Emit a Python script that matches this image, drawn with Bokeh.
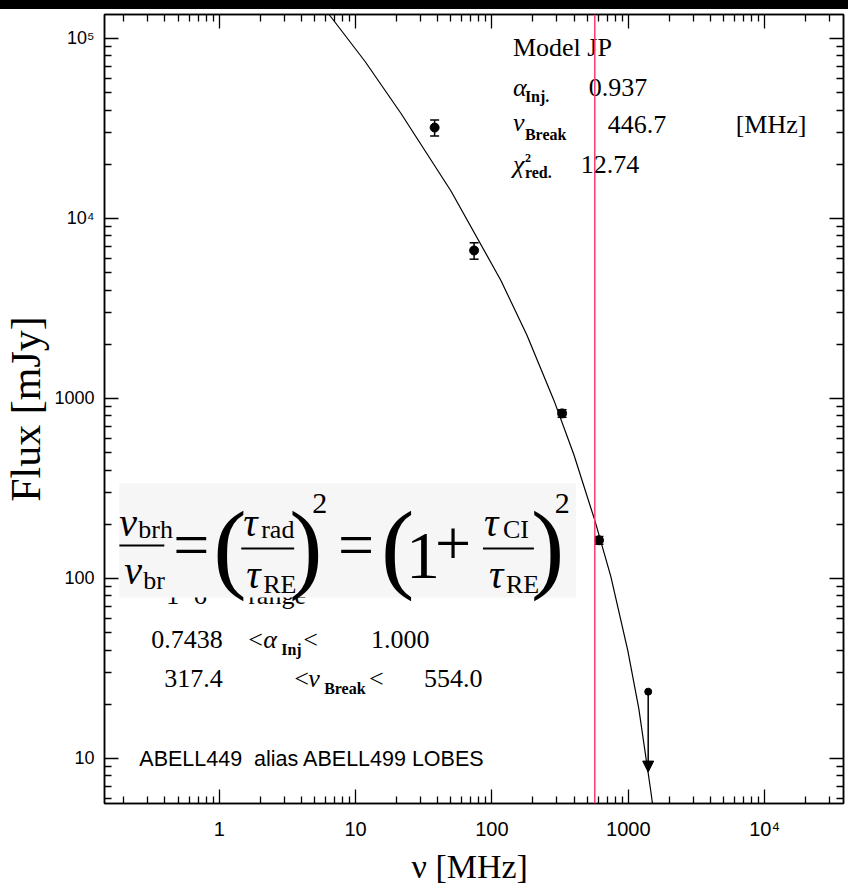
from bokeh.plotting import figure
from bokeh.models import (ColumnDataSource, FixedTicker, LogAxis, Span, Whisker,
                          TeeHead, Arrow, NormalHead, Div, Range1d, CustomJSTickFormatter)
from bokeh.layouts import column
from bokeh.core.properties import value, field
from bokeh.embed import file_html
from bokeh.resources import INLINE

# Measured flux densities of the lobes
freq_mhz = [38, 74, 327, 610]
flux_mjy = [32000, 6640, 826, 163]
flux_err = [3300, 700, 40, 8]

# 1.4 GHz upper limit
limit_freq = [1400]
limit_flux = [23.5]
limit_arrow_to = [8.4]

# JP model spectrum
model_freq = [6.395, 11.74, 21.54, 50.07, 116.4, 180.4, 284.6, 398.7, 568.4,
              744.5, 991.5, 1194, 1461, 1618]
model_flux = [135900, 74500, 38310, 14220, 4524, 2250, 978.6, 488.6, 210.1,
              102.6, 39.81, 18.96, 6.64, 3.73]

# break frequency marker
break_line_mhz = 568

# fit results
model_name = "Model JP"
alpha_inj = "0.937"
nu_break = "446.7"
chi2_red = "12.74"
alpha_lo, alpha_hi = "0.7438", "1.000"
break_lo, break_hi = "317.4", "554.0"
source_name = "ABELL449 \u00a0alias ABELL499 LOBES"

x_major = [1, 10, 100, 1000, 10000]
x_labels = {1: "1", 10: "10", 100: "100", 1000: "1000", 10000: "10\u2074"}
y_major = [10, 100, 1000, 10000, 100000]
y_labels = {10: "10", 100: "100", 1000: "1000", 10000: "10\u2074", 100000: "10\u2075"}

X_RANGE = (0.144, 37900)
Y_RANGE = (5.62, 135900)


def minor_ticks(lo, hi):
    out = []
    for e in range(-2, 7):
        for m in range(2, 10):
            v = m * 10 ** e
            if lo < v < hi:
                out.append(v)
    return out


SERIF = "Liberation Serif"
SANS = "Liberation Sans"

p = figure(width=848, height=886, x_axis_type="log", y_axis_type="log",
           x_range=Range1d(*X_RANGE), y_range=Range1d(*Y_RANGE),
           output_backend="svg", toolbar_location=None,
           min_border_left=103, min_border_right=5, min_border_top=5, min_border_bottom=92)
p.grid.visible = False
p.outline_line_color = "black"
p.outline_line_width = 1.5
p.background_fill_color = "white"
p.border_fill_color = "white"


def style_axis(ax, major, minor):
    ax.ticker = FixedTicker(ticks=major, minor_ticks=minor)
    ax.major_tick_in = 14
    ax.major_tick_out = 0
    ax.minor_tick_in = 7
    ax.minor_tick_out = 0
    ax.axis_line_color = "black"
    ax.axis_line_width = 1.5
    ax.major_tick_line_color = "black"
    ax.major_tick_line_width = 1.3
    ax.minor_tick_line_color = "black"
    ax.minor_tick_line_width = 1.3


xa = p.xaxis[0]
style_axis(xa, x_major, minor_ticks(*X_RANGE))
xa.major_label_overrides = x_labels
xa.major_label_text_font = SANS
xa.major_label_text_font_size = "20px"
xa.major_label_text_color = "black"
xa.major_label_standoff = 14
xa.axis_label = "\u03bd  [MHz]"
xa.axis_label_text_font = SERIF
xa.axis_label_text_font_size = "34px"
xa.axis_label_text_font_style = "normal"
xa.axis_label_text_color = "black"
xa.axis_label_standoff = 5

ya = p.yaxis[0]
style_axis(ya, y_major, minor_ticks(*Y_RANGE))
ya.major_label_overrides = y_labels
ya.major_label_text_font = SANS
ya.major_label_text_font_size = "18px"
ya.major_label_text_color = "black"
ya.major_label_standoff = 10
ya.axis_label = "Flux [mJy]"
ya.axis_label_text_font = SERIF
ya.axis_label_text_font_size = "42px"
ya.axis_label_text_font_style = "normal"
ya.axis_label_text_color = "black"
ya.axis_label_standoff = 2

blank = CustomJSTickFormatter(code="return ''")
top_axis = LogAxis(formatter=blank, major_label_text_font_size="0px", major_label_standoff=0)
style_axis(top_axis, x_major, minor_ticks(*X_RANGE))
p.add_layout(top_axis, "above")
right_axis = LogAxis(formatter=blank, major_label_text_font_size="0px", major_label_standoff=0)
style_axis(right_axis, y_major, minor_ticks(*Y_RANGE))
p.add_layout(right_axis, "right")


def text_block(items, font):
    src = ColumnDataSource(dict(
        x=[i[1] for i in items], y=[i[2] for i in items], text=[i[0] for i in items],
        size=[i[3] for i in items], style=[i[4] for i in items]))
    p.text(x="x", y="y", text="text", source=src, text_font=value(font),
           text_font_size=field("size"), text_font_style=field("style"),
           text_align="left", text_baseline="alphabetic", text_color="black")


# row partly hidden behind the equation panel
text_block([
    ("1\u2212\u03c3", 0.409, 80.76, "26px", "normal"),
    ("range", 1.631, 80.76, "26px", "normal"),
], SERIF)

# equation panel
p.quad(left=[0.1851], right=[412.5], bottom=[78.4], top=[337.2],
       fill_color="#f6f6f6", line_color=None)

text_block([
    ("\u03bd", 0.1851, 204.1, "40px", "italic"),
    ("brh", 0.2550, 187.9, "26px", "normal"),
    ("\u03bd", 0.2014, 110.5, "40px", "italic"),
    ("br", 0.2774, 97.89, "26px", "normal"),
    ("=", 0.4603, 155.4, "64px", "normal"),
    ("(", 0.9038, 150.6, "100px", "normal"),
    ("\u03c4", 1.499, 204.1, "40px", "italic"),
    ("rad", 2.031, 187.9, "26px", "normal"),
    ("\u03c4", 1.577, 104.99, "40px", "italic"),
    ("RE", 2.101, 93.0, "26px", "normal"),
    (")", 3.257, 150.6, "100px", "normal"),
    ("2", 4.800, 259.7, "30px", "normal"),
    ("=", 7.443, 155.4, "64px", "normal"),
    ("(", 15.38, 150.6, "100px", "normal"),
    ("1", 23.44, 133.8, "68px", "normal"),
    ("+", 38.23, 155.4, "64px", "normal"),
    ("\u03c4", 87.38, 204.1, "40px", "italic"),
    ("CI", 120.4, 187.9, "26px", "normal"),
    ("\u03c4", 95.06, 104.99, "40px", "italic"),
    ("RE", 126.7, 93.0, "26px", "normal"),
    (")", 193.1, 150.6, "100px", "normal"),
    ("2", 289.3, 259.7, "30px", "normal"),
], SERIF)
p.segment(x0=[0.1851, 1.450, 85.93], x1=[0.3955, 3.543, 203.1],
          y0=[152.5, 146.8, 146.8], y1=[152.5, 146.8, 146.8],
          line_color="black", line_width=2)

# fit summary
text_block([
    (model_name, 142.5, 89490, "26px", "normal"),
    ("\u03b1", 142.5, 53660, "26px", "italic"),
    ("Inj.", 174.5, 47690, "16px", "bold"),
    (alpha_inj, 513.5, 53660, "26px", "normal"),
    ("\u03bd", 142.5, 34300, "26px", "italic"),
    ("Break", 174.5, 29340, "16px", "bold"),
    (nu_break, 707.6, 33430, "26px", "normal"),
    ("[MHz]", 6132, 33430, "26px", "normal"),
    ("\u03c7", 142.5, 20030, "26px", "italic"),
    ("2", 174.5, 21770, "12px", "bold"),
    ("red.", 174.5, 18040, "16px", "bold"),
    (chi2_red, 448.7, 20030, "26px", "normal"),
    # 1-sigma ranges
    (alpha_lo, 0.3177, 46.02, "26px", "normal"),
    ("<", 1.631, 46.02, "26px", "normal"),
    ("\u03b1", 2.101, 46.02, "26px", "italic"),
    ("Inj", 2.846, 40.38, "16px", "bold"),
    ("<", 4.125, 46.02, "26px", "normal"),
    (alpha_hi, 12.99, 46.02, "26px", "normal"),
    (break_lo, 0.3955, 27.94, "26px", "normal"),
    ("<", 3.543, 27.94, "26px", "normal"),
    ("\u03bd", 4.487, 27.94, "26px", "italic"),
    ("Break", 5.878, 24.52, "16px", "bold"),
    ("<", 12.56, 27.94, "26px", "normal"),
    (break_hi, 31.76, 27.94, "26px", "normal"),
], SERIF)

text_block([(source_name, 0.2594, 9.967, "21.5px", "normal")], SANS)

# model curve and break frequency
p.line(model_freq, model_flux, line_color="black", line_width=1.2)
p.add_layout(Span(location=break_line_mhz, dimension="height",
                  line_color="#ff3a6e", line_width=1.5))

# data points with error bars
pts = ColumnDataSource(dict(
    x=freq_mhz, y=flux_mjy,
    lo=[f - e for f, e in zip(flux_mjy, flux_err)],
    hi=[f + e for f, e in zip(flux_mjy, flux_err)]))
p.add_layout(Whisker(source=pts, base="x", lower="lo", upper="hi", dimension="height",
                     line_color="black", line_width=1.5,
                     upper_head=TeeHead(size=9, line_width=1.5, line_color="black"),
                     lower_head=TeeHead(size=9, line_width=1.5, line_color="black")))
p.scatter("x", "y", source=pts, size=9, color="black")

# upper limit
p.scatter(limit_freq, limit_flux, size=7, color="black")
p.add_layout(Arrow(end=NormalHead(size=11, fill_color="black", line_color="black"),
                   x_start=limit_freq[0], y_start=limit_flux[0],
                   x_end=limit_freq[0], y_end=limit_arrow_to[0],
                   line_color="black", line_width=1.5))

band = Div(text="", width=848, height=9, margin=0, styles={"background-color": "black"})
layout = column(band, p, spacing=0)

open("out.html", "w").write(file_html(layout, INLINE))
